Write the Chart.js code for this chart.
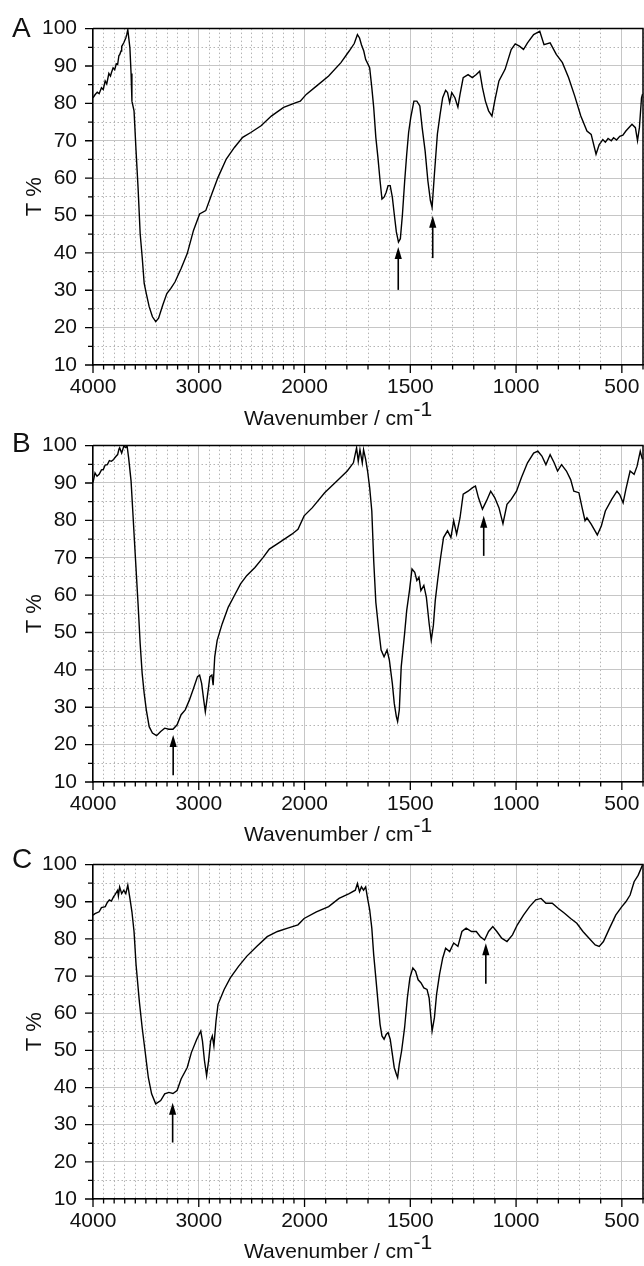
<!DOCTYPE html>
<html>
<head>
<meta charset="utf-8">
<title>FTIR spectra A, B, C</title>
<script src="https://cdn.jsdelivr.net/npm/chart.js@4.4.1/dist/chart.umd.min.js"></script>
<style>
  body { margin: 0; background: #fff; font-family: 'Liberation Sans', Arial, sans-serif; }
  #wrap { position: relative; width: 644px; height: 1266px; overflow: hidden; }
  #wrap canvas { position: absolute; left: 0; }
  .letter { position: absolute; left: 12px; font-size: 28px; line-height: 28px; color: #111; }
  .xtitle { position: absolute; left: 244px; font-size: 21px; line-height: 24px; color: #111; white-space: nowrap; }
  .xtitle span { position: relative; top: -9px; }
</style>
</head>
<body>
<div id="wrap"></div>
<script>
// FTIR transmittance spectra, three samples stacked (A, B, C)
// x axis is broken at 2000 cm-1: the 2000-400 part is drawn twice as wide

// ---- data (wavenumber / cm-1, T %) ----
const WN_A = [4000, 3981, 3960, 3942, 3920, 3903, 3885, 3870, 3850, 3835, 3826, 3810, 3795, 3780, 3767, 3755, 3748, 3735, 3729, 3709,
  3700, 3690, 3680, 3671, 3663, 3651, 3640, 3632, 3612, 3593, 3574, 3554, 3535, 3516, 3496, 3469, 3438, 3407, 3380, 3341,
  3302, 3264, 3225, 3167, 3109, 3050, 2992, 2934, 2876, 2818, 2740, 2663, 2585, 2508, 2411, 2314, 2198, 2081, 2040, 1992,
  1944, 1886, 1828, 1789, 1765, 1750, 1740, 1731, 1720, 1711, 1700, 1692, 1682, 1673, 1663, 1653, 1643, 1634, 1624, 1614,
  1605, 1595, 1585, 1576, 1566, 1556, 1547, 1537, 1527, 1517, 1508, 1498, 1483, 1469, 1455, 1444, 1430, 1417, 1405, 1397,
  1386, 1372, 1359, 1347, 1333, 1324, 1314, 1304, 1289, 1275, 1265, 1250, 1227, 1207, 1188, 1172, 1159, 1145, 1130, 1114,
  1101, 1081, 1052, 1023, 1004, 984, 965, 946, 917, 888, 868, 839, 810, 781, 752, 723, 694, 665, 645, 622,
  607, 600, 590, 578, 565, 550, 539, 525, 510, 495, 481, 452, 436, 426, 417, 407, 402];
const T_A = [81.5, 82.3, 83.0, 82.6, 84.2, 83.7, 86.0, 85.2, 88.0, 87.3, 88.2, 89.5, 89.0, 90.6, 90.4, 92.8, 93.0, 94.0, 95.2, 96.2,
  96.8, 97.5, 98.5, 99.7, 97.8, 94.8, 88.0, 80.6, 78.0, 67.3, 57.5, 45.1, 38.9, 31.8, 29.1, 25.6, 22.9, 21.6, 22.5, 26.0,
  29.1, 30.5, 32.2, 35.8, 39.8, 46.0, 50.4, 51.3, 55.8, 60.2, 65.1, 68.2, 70.9, 72.2, 74.0, 76.6, 78.9, 80.2, 80.6, 82.4,
  84.6, 87.3, 90.9, 94.0, 96.0, 98.4, 97.5, 95.7, 94.0, 91.7, 90.5, 89.5, 84.2, 78.9, 70.9, 65.5, 59.3, 54.4, 54.9, 56.2,
  58.0, 58.0, 54.9, 50.4, 45.6, 42.9, 43.8, 50.4, 58.9, 66.4, 72.2, 76.2, 80.6, 80.6, 79.3, 73.5, 67.3, 59.3, 54.0, 52.2,
  61.1, 71.8, 77.1, 81.5, 83.5, 82.9, 80.2, 82.9, 81.5, 79.0, 82.4, 86.9, 87.7, 86.9, 87.7, 88.6, 84.2, 80.6, 78.0, 76.6,
  80.6, 86.0, 89.1, 94.4, 95.9, 95.3, 94.4, 96.2, 98.4, 99.3, 95.7, 96.2, 93.1, 90.9, 86.9, 82.0, 76.6, 72.6, 71.7, 66.4,
  69.0, 69.5, 70.3, 69.6, 70.6, 70.0, 70.8, 70.2, 71.2, 71.5, 72.6, 74.4, 73.5, 70.0, 73.5, 81.5, 82.5];

const WN_B = [4000, 3981, 3962, 3942, 3920, 3903, 3885, 3864, 3845, 3826, 3805, 3795, 3780, 3767, 3755, 3748, 3729, 3709, 3690, 3678,
  3663, 3640, 3624, 3601, 3574, 3554, 3535, 3516, 3496, 3469, 3438, 3399, 3360, 3322, 3283, 3244, 3205, 3167, 3128, 3089,
  3050, 3012, 2992, 2973, 2953, 2938, 2915, 2895, 2876, 2864, 2849, 2826, 2779, 2721, 2663, 2605, 2547, 2469, 2391, 2333,
  2236, 2120, 2062, 2004, 1963, 1905, 1847, 1798, 1769, 1754, 1746, 1738, 1727, 1721, 1711, 1702, 1692, 1682, 1673, 1663,
  1649, 1638, 1624, 1610, 1599, 1585, 1576, 1566, 1560, 1552, 1543, 1527, 1517, 1504, 1492, 1479, 1469, 1459, 1450, 1436,
  1424, 1411, 1401, 1391, 1382, 1370, 1359, 1343, 1324, 1308, 1295, 1281, 1265, 1250, 1227, 1207, 1192, 1178, 1159, 1140,
  1120, 1101, 1081, 1062, 1043, 1023, 998, 975, 946, 917, 897, 878, 859, 839, 820, 804, 785, 762, 742, 727,
  703, 688, 674, 665, 645, 616, 597, 578, 548, 523, 510, 494, 481, 461, 442, 428, 413, 403];
const T_B = [90.1, 92.7, 91.8, 92.3, 93.5, 93.6, 94.8, 94.9, 96.0, 95.8, 96.3, 96.7, 97.2, 97.6, 99.0, 99.4, 98.0, 99.8, 99.5, 100.0,
  96.7, 90.5, 82.5, 71.0, 57.7, 47.0, 39.0, 33.7, 29.3, 24.8, 23.1, 22.4, 23.5, 24.4, 24.1, 24.1, 25.3, 28.0, 29.3, 31.9,
  35.0, 38.2, 38.6, 36.4, 31.9, 28.8, 33.7, 38.2, 38.6, 35.9, 43.5, 47.9, 52.3, 56.8, 59.9, 63.0, 65.2, 67.4, 70.1, 72.3,
  74.1, 76.3, 77.6, 81.2, 83.4, 87.4, 90.5, 93.2, 95.4, 99.4, 95.8, 98.9, 95.4, 98.9, 96.3, 93.2, 88.7, 82.5, 69.2, 58.1,
  50.6, 45.3, 43.5, 45.3, 42.6, 36.4, 31.1, 27.5, 26.2, 29.3, 40.8, 49.7, 55.9, 61.2, 67.0, 66.1, 63.9, 64.8, 61.2, 62.6,
  59.4, 52.4, 47.9, 51.9, 58.6, 64.3, 69.2, 75.4, 77.2, 75.4, 79.9, 76.3, 80.7, 87.0, 87.8, 88.7, 89.2, 86.1, 83.0, 85.2,
  87.8, 86.1, 83.4, 79.1, 84.3, 85.6, 87.8, 91.4, 95.4, 98.0, 98.5, 97.2, 94.9, 97.6, 95.4, 93.2, 94.9, 93.2, 90.9, 87.8,
  87.4, 83.4, 79.9, 80.7, 79.0, 76.1, 78.5, 82.5, 85.6, 87.8, 86.9, 84.7, 88.3, 93.2, 92.3, 94.5, 98.5, 96.3];

const WN_C = [4000, 3981, 3942, 3920, 3884, 3865, 3845, 3826, 3806, 3790, 3767, 3760, 3748, 3729, 3709, 3690, 3671, 3651, 3632, 3612,
  3593, 3562, 3535, 3508, 3477, 3446, 3407, 3360, 3322, 3283, 3244, 3205, 3167, 3109, 3070, 3019, 2981, 2965, 2946, 2926,
  2907, 2888, 2872, 2857, 2837, 2818, 2760, 2702, 2624, 2547, 2450, 2353, 2256, 2159, 2062, 2004, 1944, 1886, 1837, 1789,
  1760, 1750, 1740, 1731, 1721, 1711, 1702, 1692, 1682, 1673, 1663, 1653, 1643, 1634, 1624, 1614, 1605, 1595, 1585, 1576,
  1566, 1560, 1552, 1541, 1527, 1514, 1502, 1488, 1475, 1463, 1450, 1436, 1421, 1411, 1397, 1386, 1376, 1362, 1347, 1333,
  1314, 1295, 1275, 1256, 1236, 1211, 1188, 1169, 1149, 1130, 1110, 1091, 1068, 1043, 1017, 994, 965, 936, 907, 882,
  859, 829, 800, 771, 742, 713, 684, 655, 626, 607, 587, 558, 529, 500, 481, 461, 442, 423, 403];
const T_C = [86.4, 86.8, 87.3, 88.4, 88.7, 89.8, 90.5, 90.2, 91.3, 92.0, 93.1, 91.6, 94.0, 92.2, 93.1, 92.2, 94.5, 90.9, 87.3, 82.0,
  73.1, 63.2, 56.1, 49.9, 42.7, 38.3, 35.6, 36.5, 38.3, 38.7, 38.4, 39.2, 42.3, 45.4, 49.4, 53.0, 55.2, 52.5, 47.2, 43.2,
  47.2, 52.5, 53.9, 51.2, 57.9, 62.4, 66.4, 69.5, 72.6, 75.3, 78.0, 80.6, 82.0, 82.9, 83.8, 85.5, 87.3, 88.7, 90.9, 92.2,
  93.1, 94.9, 92.7, 94.0, 93.1, 94.0, 90.9, 87.8, 82.9, 75.7, 69.5, 63.2, 57.0, 53.9, 53.0, 54.3, 54.8, 53.0, 49.0, 45.4,
  43.6, 42.7, 46.3, 49.9, 56.1, 64.1, 69.5, 72.2, 71.3, 69.0, 68.2, 66.8, 66.4, 64.1, 55.2, 58.8, 65.0, 70.4, 74.8, 77.5,
  76.6, 78.9, 78.0, 82.0, 82.9, 82.0, 82.0, 80.6, 79.7, 82.0, 83.3, 82.0, 80.2, 79.3, 81.1, 83.8, 86.4, 88.7, 90.5, 90.9,
  89.6, 89.6, 88.2, 86.9, 85.5, 84.2, 82.0, 80.2, 78.4, 78.0, 79.3, 82.9, 86.4, 88.7, 90.0, 91.8, 95.4, 97.1, 99.8];

// arrows: [wavenumber, T at tail, T at tip]
const ARROWS_A = [[1557, 30.1, 41.6], [1394, 38.6, 49.9]];
const ARROWS_B = [[3242, 11.8, 22.6], [1153, 70.5, 81.2]];
const ARROWS_C = [[3247, 25.2, 35.9], [1143, 67.9, 78.8]];

// axes
const X_MAX = 4000, X_MIN = 400, X_BREAK = 2000, LOW_STRETCH = 2;
const X_LABELS = [4000, 3000, 2000, 1500, 1000, 500];
const X_MINOR_STEP = 100;
const Y_MIN = 10, Y_MAX = 100, Y_STEP = 5, Y_LABEL_STEP = 10;

// ---- broken wavenumber scale ----
const SPAN = (X_MAX - X_BREAK) + (X_BREAK - X_MIN) * LOW_STRETCH;
function wnToDec(w) {
    if (w >= X_BREAK) return (X_MAX - w) / SPAN;
    return ((X_MAX - X_BREAK) + (X_BREAK - w) * LOW_STRETCH) / SPAN;
}
function decToWn(d) {
    const u = d * SPAN;
    if (u <= X_MAX - X_BREAK) return X_MAX - u;
    return X_BREAK - (u - (X_MAX - X_BREAK)) / LOW_STRETCH;
}
class WavenumberScale extends Chart.LinearScale {
    getPixelForValue(v) { return v == null ? NaN : this.getPixelForDecimal(wnToDec(v)); }
    getValueForPixel(p) { return decToWn(this.getDecimalForPixel(p)); }
}
WavenumberScale.id = 'wavenumber';
WavenumberScale.defaults = Chart.LinearScale.defaults;
Chart.register(WavenumberScale);

// frame on top/right + outward major/minor tick marks
const frameTicks = {
    id: 'frameTicks',
    beforeDatasetsDraw(chart) {
        const { ctx, chartArea: a } = chart;
        ctx.save();
        ctx.strokeStyle = '#000';
        ctx.lineWidth = 1.5;
        ctx.beginPath();
        ctx.moveTo(a.left, a.top);
        ctx.lineTo(a.right, a.top);
        ctx.lineTo(a.right, a.bottom);
        ctx.stroke();
        ctx.restore();
    },
    afterDraw(chart) {
        const { ctx, chartArea: a, scales: { x, y } } = chart;
        ctx.save();
        ctx.strokeStyle = '#000';
        ctx.lineWidth = 1.3;
        ctx.beginPath();
        x.ticks.forEach(t => {
            const px = x.getPixelForValue(t.value);
            const len = X_LABELS.includes(t.value) ? 8 : 4.5;
            ctx.moveTo(px, a.bottom); ctx.lineTo(px, a.bottom + len);
        });
        y.ticks.forEach(t => {
            const py = y.getPixelForValue(t.value);
            const len = t.value % Y_LABEL_STEP === 0 ? 8 : 5;
            ctx.moveTo(a.left, py); ctx.lineTo(a.left - len, py);
        });
        ctx.stroke();
        ctx.restore();
    }
};

const arrowMarks = {
    id: 'arrowMarks',
    afterDatasetsDraw(chart, args, opts) {
        const { ctx, scales: { x, y } } = chart;
        ctx.save();
        ctx.strokeStyle = '#000';
        ctx.fillStyle = '#000';
        ctx.lineWidth = 1.6;
        (opts.list || []).forEach(([w, from, to]) => {
            const px = x.getPixelForValue(w);
            const yb = y.getPixelForValue(from), yt = y.getPixelForValue(to);
            ctx.beginPath(); ctx.moveTo(px, yb); ctx.lineTo(px, yt + 10); ctx.stroke();
            ctx.beginPath();
            ctx.moveTo(px, yt); ctx.lineTo(px - 3.6, yt + 12); ctx.lineTo(px + 3.6, yt + 12);
            ctx.closePath(); ctx.fill();
        });
        ctx.restore();
    }
};

Chart.defaults.font.family = "'Liberation Sans', Arial, sans-serif";
Chart.defaults.color = '#111';

const GRID_MAJOR = '#c6c6c6', GRID_MINOR = '#b4b4b4';
const CANVAS_H = 420, PLOT_LEFT = 93;

function makePanel(wrap, p) {
    const canvas = document.createElement('canvas');
    canvas.width = 644; canvas.height = CANVAS_H;
    canvas.style.top = p.top + 'px';
    wrap.appendChild(canvas);

    const xTicks = [];
    for (let w = X_MIN; w <= X_MAX; w += X_MINOR_STEP) xTicks.push(w);
    const isMajorX = v => X_LABELS.includes(v);

    new Chart(canvas, {
        type: 'line',
        data: {
            datasets: [{
                data: p.wn.map((w, i) => ({ x: w, y: p.t[i] })),
                borderColor: '#000', borderWidth: 1.4, pointRadius: 0, tension: 0, fill: false
            }]
        },
        options: {
            responsive: false, animation: false, events: [],
            layout: { padding: { top: p.plotTop, left: 0, right: 1, bottom: 0 } },
            plugins: { legend: { display: false }, tooltip: { enabled: false }, arrowMarks: { list: p.arrows } },
            scales: {
                x: {
                    type: 'wavenumber', min: X_MIN, max: X_MAX,
                    afterBuildTicks: s => { s.ticks = xTicks.map(v => ({ value: v })); },
                    afterFit: s => { s.height = CANVAS_H - p.plotTop - p.plotH; },
                    ticks: { autoSkip: false, maxRotation: 0, padding: 10, font: { size: 21 },
                             callback: v => isMajorX(v) ? String(v) : '' },
                    grid: { drawTicks: false, lineWidth: 1,
                            color: c => c.tick && isMajorX(c.tick.value) ? GRID_MAJOR : GRID_MINOR },
                    border: { display: true, color: '#000', width: 1.5,
                              dash: c => c.tick && !isMajorX(c.tick.value) ? [1.5, 2.5] : [] }
                },
                y: {
                    min: Y_MIN, max: Y_MAX,
                    afterFit: s => { s.width = PLOT_LEFT; },
                    ticks: { stepSize: Y_STEP, autoSkip: false, padding: 16, font: { size: 21 },
                             callback: v => v % Y_LABEL_STEP === 0 ? String(v) : '' },
                    title: { display: true, text: 'T %', font: { size: 22 }, padding: { top: 22 } },
                    grid: { drawTicks: false, lineWidth: 1,
                            color: c => c.tick && c.tick.value % Y_LABEL_STEP === 0 ? GRID_MAJOR : GRID_MINOR },
                    border: { display: true, color: '#000', width: 1.5,
                              dash: c => c.tick && c.tick.value % Y_LABEL_STEP !== 0 ? [1.5, 2.5] : [] }
                }
            }
        },
        plugins: [frameTicks, arrowMarks]
    });

    const letter = document.createElement('div');
    letter.className = 'letter';
    letter.textContent = p.name;
    letter.style.top = p.letterTop + 'px';
    wrap.appendChild(letter);

    const xt = document.createElement('div');
    xt.className = 'xtitle';
    xt.innerHTML = 'Wavenumber / cm<span>-1</span>';
    xt.style.top = p.titleTop + 'px';
    wrap.appendChild(xt);
}

document.addEventListener('DOMContentLoaded', function () {
    const wrap = document.getElementById('wrap');
    makePanel(wrap, { name: 'A', wn: WN_A, t: T_A, arrows: ARROWS_A, top: 0,   plotTop: 27, plotH: 338, letterTop: 14,  titleTop: 406 });
    makePanel(wrap, { name: 'B', wn: WN_B, t: T_B, arrows: ARROWS_B, top: 417, plotTop: 27, plotH: 338, letterTop: 429, titleTop: 822 });
    makePanel(wrap, { name: 'C', wn: WN_C, t: T_C, arrows: ARROWS_C, top: 836, plotTop: 27, plotH: 336, letterTop: 845, titleTop: 1239 });
});
</script>
</body>
</html>
